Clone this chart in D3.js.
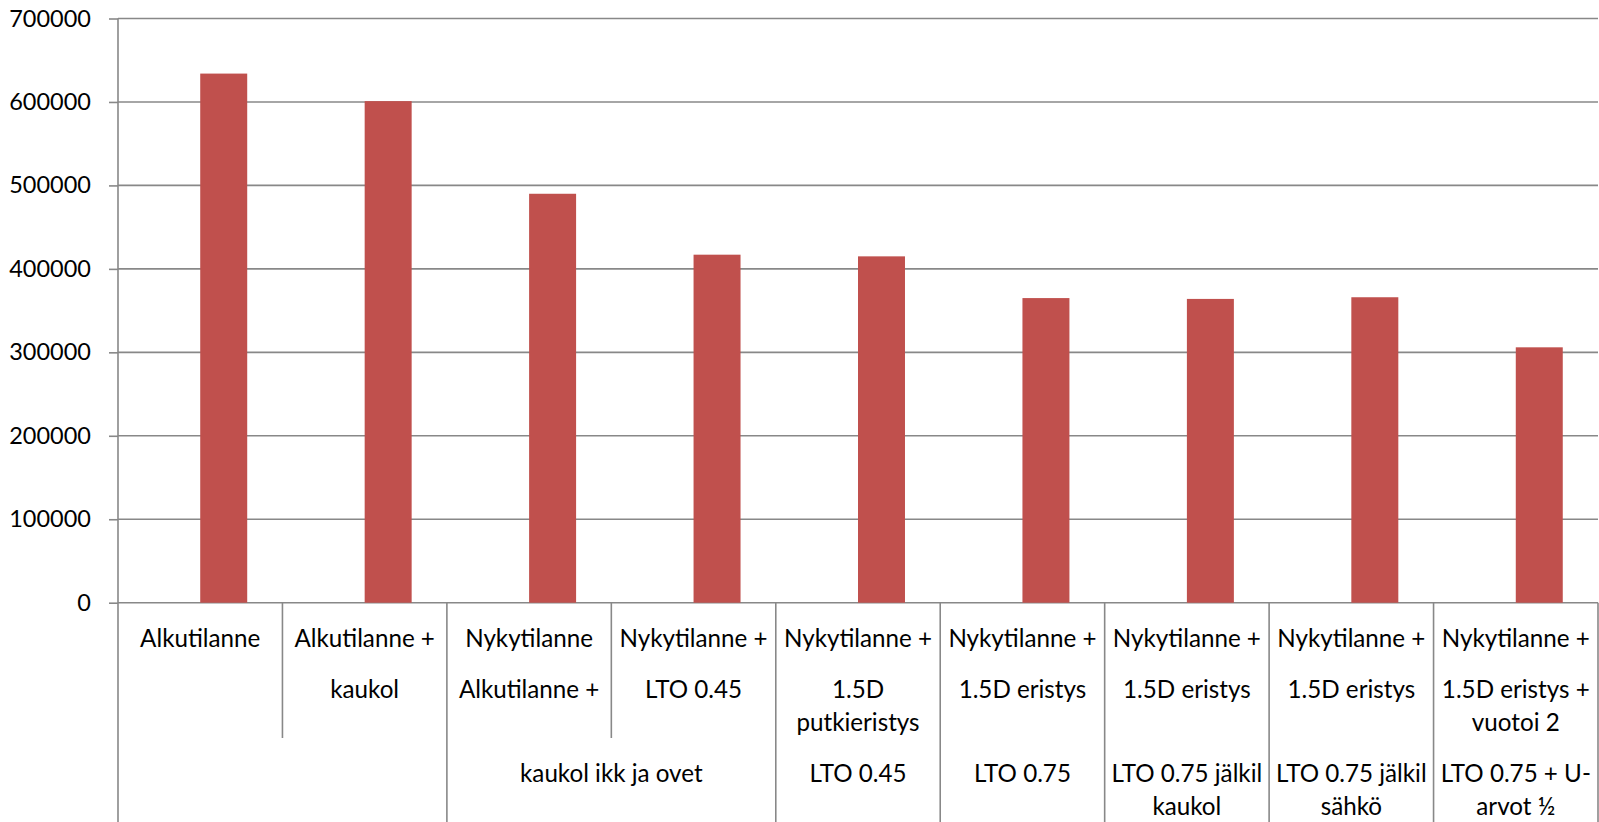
<!DOCTYPE html>
<html>
<head>
<meta charset="utf-8">
<script src="https://cdn.jsdelivr.net/npm/d3@7"></script>
<style>
  body { margin: 0; background: #fff; }
  svg { display: block; }
  text { font-family: Lato, "Open Sans", sans-serif; fill: #000; }
</style>
</head>
<body>
<svg id="chart"></svg>
<script>
const svgWidth = 1599;
const svgHeight = 822;

// chart data
const categories = ["c1", "c2", "c3", "c4", "c5", "c6", "c7", "c8", "c9"];
const values = [634000, 601000, 490000, 417000, 415000, 365000, 364000, 366000, 306000];
// inner level of the category axis (one entry per bar, lines of text)
const innerLabels = [
  ["Alkutilanne"],
  ["Alkutilanne +", "kaukol"],
  ["Nykytilanne", "Alkutilanne +"],
  ["Nykytilanne +", "LTO 0.45"],
  ["Nykytilanne +", "1.5D", "putkieristys"],
  ["Nykytilanne +", "1.5D eristys"],
  ["Nykytilanne +", "1.5D eristys"],
  ["Nykytilanne +", "1.5D eristys"],
  ["Nykytilanne +", "1.5D eristys +", "vuotoi 2"]
];
// outer level: groups of bars sharing one label
const outerGroups = [
  { first: 0, last: 1, lines: [] },
  { first: 2, last: 3, lines: ["kaukol ikk ja ovet"] },
  { first: 4, last: 4, lines: ["LTO 0.45"] },
  { first: 5, last: 5, lines: ["LTO 0.75"] },
  { first: 6, last: 6, lines: ["LTO 0.75 jälkil", "kaukol"] },
  { first: 7, last: 7, lines: ["LTO 0.75 jälkil", "sähkö"] },
  { first: 8, last: 8, lines: ["LTO 0.75 + U-", "arvot ½"] }
];
const yTicks = [0, 100000, 200000, 300000, 400000, 500000, 600000, 700000];

// layout
const plot = { left: 118, right: 1598, top: 18.5, bottom: 602.7 };
const innerBaselines = [646.5, 698, 731];
const outerBaselines = [781.5, 815];
const innerBottom = 738;
const gridColor = "#888888";
const barColor = "#C0504D";
const fontSize = 23.5;
const catFontSize = 24.2;

const svg = d3.select("#chart")
  .attr("width", svgWidth)
  .attr("height", svgHeight);

const x = d3.scaleBand()
  .domain(categories)
  .range([plot.left, plot.right])
  .padding(0);

// two series slots per category, Excel style; only the second is filled
const xInner = d3.scaleBand()
  .domain(["empty", "value"])
  .range([0, x.bandwidth()])
  .paddingInner(0)
  .paddingOuter(0.75);

const y = d3.scaleLinear()
  .domain([0, 700000])
  .range([plot.bottom, plot.top]);

// gridlines + left ticks
const yAxis = svg.append("g")
  .attr("transform", "translate(" + plot.left + ",0)")
  .call(d3.axisLeft(y)
    .tickValues(yTicks)
    .tickSize(9)
    .tickPadding(18)
    .tickFormat(d3.format("d")));
yAxis.select(".domain").remove();
yAxis.selectAll(".tick line")
  .attr("stroke", gridColor)
  .attr("stroke-width", 1.6);
yAxis.selectAll(".tick text")
  .style("font-size", fontSize + "px")
  .style("font-family", "Lato, sans-serif")
  .attr("fill", "#000");

svg.append("g")
  .selectAll("line")
  .data(yTicks)
  .join("line")
  .attr("x1", plot.left)
  .attr("x2", plot.right)
  .attr("y1", d => y(d))
  .attr("y2", d => y(d))
  .attr("stroke", gridColor)
  .attr("stroke-width", 1.6);

// bars
svg.append("g")
  .selectAll("rect")
  .data(values)
  .join("rect")
  .attr("x", (d, i) => x(categories[i]) + xInner("value"))
  .attr("width", xInner.bandwidth())
  .attr("y", d => y(d))
  .attr("height", d => y(0) - y(d))
  .attr("fill", barColor);

// value axis line
svg.append("line")
  .attr("x1", plot.left).attr("x2", plot.left)
  .attr("y1", plot.top).attr("y2", svgHeight)
  .attr("stroke", gridColor)
  .attr("stroke-width", 1.6);

// category dividers: full height at group edges, short inside a group
const groupEdges = new Set();
outerGroups.forEach(g => { groupEdges.add(g.first); groupEdges.add(g.last + 1); });
const dividers = d3.range(1, categories.length + 1);
svg.append("g")
  .selectAll("line")
  .data(dividers)
  .join("line")
  .attr("x1", i => i < categories.length ? x(categories[i]) : plot.right)
  .attr("x2", i => i < categories.length ? x(categories[i]) : plot.right)
  .attr("y1", plot.bottom)
  .attr("y2", i => groupEdges.has(i) ? svgHeight : innerBottom)
  .attr("stroke", gridColor)
  .attr("stroke-width", 1.6);

// inner labels
const inner = svg.append("g")
  .attr("text-anchor", "middle")
  .style("font-size", catFontSize + "px");
innerLabels.forEach((lines, i) => {
  lines.forEach((t, j) => {
    inner.append("text")
      .attr("x", x(categories[i]) + x.bandwidth() / 2)
      .attr("y", innerBaselines[j])
      .text(t);
  });
});

// outer labels
const outer = svg.append("g")
  .attr("text-anchor", "middle")
  .style("font-size", catFontSize + "px");
outerGroups.forEach(g => {
  const x0 = x(categories[g.first]);
  const x1 = x(categories[g.last]) + x.bandwidth();
  g.lines.forEach((t, j) => {
    outer.append("text")
      .attr("x", (x0 + x1) / 2)
      .attr("y", outerBaselines[j])
      .text(t);
  });
});
</script>
</body>
</html>
